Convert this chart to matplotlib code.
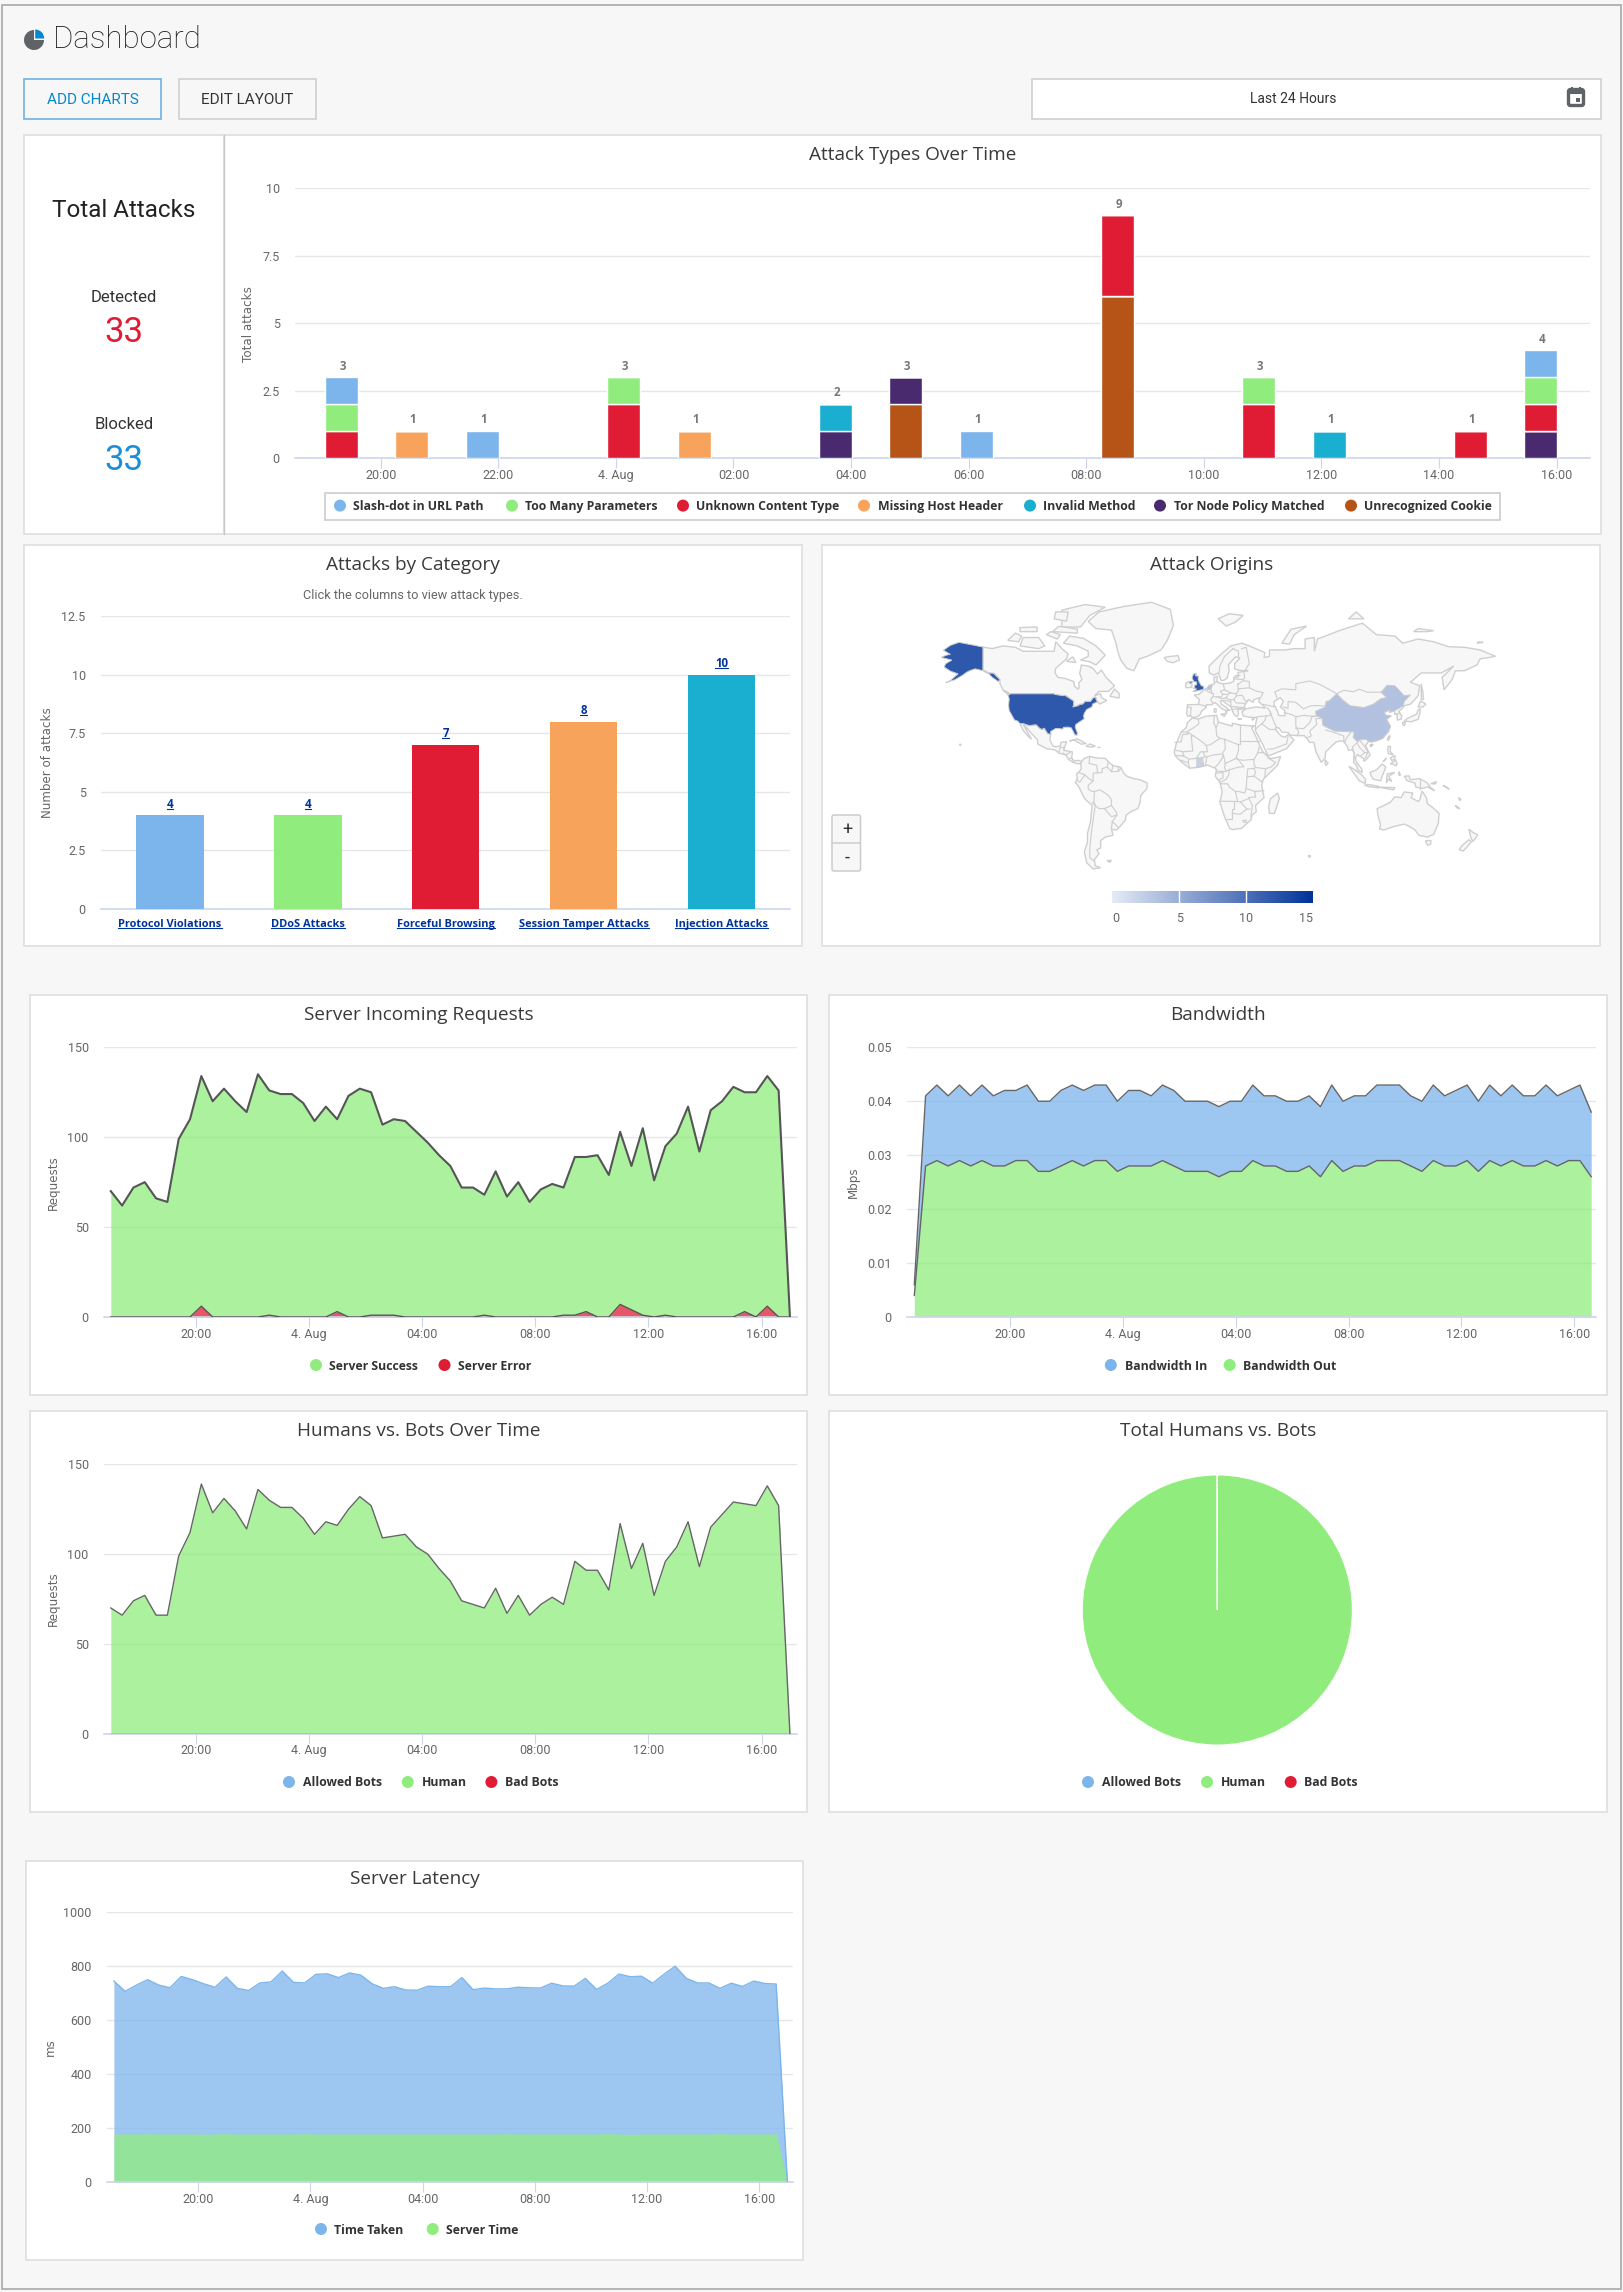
import numpy as np
import matplotlib
matplotlib.use('Agg')
from matplotlib import pyplot as plt
from matplotlib.colors import LinearSegmentedColormap
from matplotlib.patches import Rectangle, Ellipse, Wedge, Polygon, FancyBboxPatch

W, H = 1624, 2292

BLUE = '#7cb5ec'
GREEN = '#90ed7d'
RED = '#df1c33'
ORANGE = '#f7a35c'
TEAL = '#1aafd0'
PURPLE = '#4a2a6f'
BROWN = '#b55416'
GRID = '#e6e6e6'
AXIS = '#ccd6eb'
LINK = '#003399'

# ---- attack types, one value per time bin (hours after 20:00)
attack_bins = [-0.67, 0.53, 1.73, 4.13, 5.33, 7.73, 8.93, 10.13, 12.53, 14.93, 16.13, 18.53, 19.73]
slash_dot = [1, 0, 1, 0, 0, 0, 0, 1, 0, 0, 0, 0, 1]
too_many = [1, 0, 0, 1, 0, 0, 0, 0, 0, 1, 0, 0, 1]
unknown_type = [1, 0, 0, 2, 0, 0, 0, 0, 3, 2, 0, 1, 1]
missing_host = [0, 1, 0, 0, 1, 0, 0, 0, 0, 0, 0, 0, 0]
invalid_method = [0, 0, 0, 0, 0, 1, 0, 0, 0, 0, 1, 0, 0]
tor_node = [0, 0, 0, 0, 0, 1, 1, 0, 0, 0, 0, 0, 1]
bad_cookie = [0, 0, 0, 0, 0, 0, 2, 0, 6, 0, 0, 0, 0]
attack_names = ['Slash-dot in URL Path', 'Too Many Parameters', 'Unknown Content Type', 'Missing Host Header',
                'Invalid Method', 'Tor Node Policy Matched', 'Unrecognized Cookie']

# ---- attacks by category
categories = ['Protocol Violations', 'DDoS Attacks', 'Forceful Browsing', 'Session Tamper Attacks', 'Injection Attacks']
category_counts = [4, 4, 7, 8, 10]

# ---- time series, one sample every 24 minutes
server_total = [70, 62, 72, 75, 66, 64, 99, 110, 134, 120, 127, 120, 114, 135, 126, 124, 124, 119, 109, 117,
                110, 123, 127, 125, 107, 110, 109, 103, 97, 90, 84, 72, 72, 68, 81, 67, 75, 64, 71, 74,
                72, 89, 89, 90, 79, 103, 84, 105, 76, 95, 102, 117, 92, 115, 120, 128, 125, 125, 134, 126, 0]
server_error = [0, 0, 0, 0, 0, 0, 0, 0, 6, 0, 0, 0, 0, 0, 1, 0, 0, 0, 0, 0,
                3, 0, 0, 1, 1, 1, 0, 0, 0, 0, 0, 0, 0, 1, 0, 0, 0, 0, 0, 0,
                1, 1, 3, 0, 0, 7, 4, 1, 0, 1, 0, 0, 0, 0, 0, 0, 3, 0, 6, 0, 0]
bandwidth_in = [.006, .041, .043, .041, .043, .041, .043, .041, .042, .042, .043, .040, .040, .042, .043, .042,
                .043, .043, .040, .042, .042, .041, .043, .042, .040, .040, .040, .039, .040, .040, .043, .041,
                .041, .040, .040, .041, .039, .043, .040, .041, .041, .043, .043, .043, .041, .040, .043, .041,
                .042, .043, .040, .043, .041, .043, .041, .041, .043, .041, .042, .043, .038]
bandwidth_out = [.004, .028, .029, .028, .029, .028, .029, .028, .028, .029, .029, .027, .027, .028, .029, .028,
                 .029, .029, .027, .028, .028, .028, .029, .028, .027, .027, .027, .026, .027, .027, .029, .028,
                 .028, .027, .027, .028, .026, .029, .027, .028, .028, .029, .029, .029, .028, .027, .029, .028,
                 .028, .029, .027, .029, .028, .029, .028, .028, .029, .028, .029, .029, .026]
humans = [70, 66, 74, 77, 66, 66, 99, 112, 139, 123, 131, 124, 114, 136, 130, 126, 126, 120, 111, 118,
          116, 125, 132, 127, 109, 110, 111, 104, 100, 92, 85, 74, 72, 70, 81, 67, 77, 66, 72, 76,
          72, 96, 91, 91, 80, 117, 92, 106, 77, 96, 104, 118, 93, 115, 122, 129, 128, 127, 138, 127, 0]
time_taken = [745, 707, 730, 750, 730, 720, 762, 750, 735, 722, 760, 718, 710, 738, 742, 782, 740, 738, 770, 772,
              758, 775, 767, 735, 718, 724, 712, 711, 726, 724, 724, 758, 713, 719, 716, 716, 722, 720, 719, 737,
              727, 726, 755, 714, 737, 771, 761, 763, 737, 770, 800, 755, 738, 738, 718, 737, 725, 745, 736, 734, 0]
server_time = [178, 178, 178, 179, 178, 178, 178, 178, 177, 178, 179, 178, 178, 178, 178, 178, 178, 179, 178, 178,
               178, 178, 178, 178, 178, 178, 178, 178, 178, 178, 178, 178, 178, 178, 178, 179, 178, 178, 178, 178,
               178, 178, 178, 178, 179, 178, 177, 178, 178, 178, 178, 178, 178, 178, 179, 178, 178, 178, 178, 178, 0]

hour_ticks = [3, 7, 11, 15, 19, 23]
hour_labels = ['20:00', '4. Aug', '04:00', '08:00', '12:00', '16:00']

# ---- pie
pie_values = [0, 5600, 1]
pie_colors = [BLUE, GREEN, RED]

# ---- attack origins, attack count by highlighted country
usa_count, uk_count, china_count, ghana_count, dutch_count = 12, 12, 3.4, 2, 3

# ---- map outlines, lon/lat, read by eye so very rough
usa_main = [(-124.7, 48.4), (-123, 49), (-95.2, 49), (-94.6, 48.7), (-89.6, 48), (-88, 48.2), (-84.8, 46.5), (-83.5, 45.8),
            (-82.5, 45.3), (-82.4, 43), (-83, 42), (-79, 42.8), (-79, 43.3), (-76.5, 43.6), (-75, 45), (-71.5, 45), (-70, 46.7),
            (-68.3, 47.3), (-67.8, 45.7), (-67, 44.8), (-70, 43.7), (-70.7, 42), (-74, 40.6), (-75.5, 38.5), (-76, 37),
            (-75.6, 35.3), (-77.8, 34), (-81, 32), (-81.4, 30.5), (-80, 26.8), (-80.4, 25.2), (-81.8, 26), (-82.8, 28), (-84, 30),
            (-86, 30.4), (-89, 30.3), (-89.5, 29.2), (-91.5, 29.5), (-94, 29.6), (-97.2, 27.8), (-97.2, 26), (-99.2, 26.5),
            (-101.4, 29.8), (-103, 29), (-104.7, 30), (-106.5, 31.8), (-108.2, 31.7), (-111, 31.3), (-114.8, 32.5), (-117.1, 32.5),
            (-118.5, 34), (-120.6, 34.6), (-122.4, 37.5), (-124, 40), (-124.4, 43), (-124, 46.2)]
alaska = [(-141, 69.6), (-148, 70.4), (-156.5, 71.3), (-162, 70.2), (-166.5, 68.4), (-162, 66.8), (-164.5, 66.5), (-168, 65.6),
          (-161, 64.5), (-165, 63), (-166, 61.6), (-162, 59.8), (-158, 58.8), (-157, 58.6), (-162, 55.5), (-165, 54.5), (-159, 55.9),
          (-154, 58), (-151.5, 59.3), (-149.5, 60), (-146, 60.8), (-141, 60), (-137, 58.5), (-135, 57), (-131, 55), (-130, 55.9),
          (-134, 58.8), (-137.5, 59), (-141, 60.3)]
canada = [(-141, 69.6), (-135, 69), (-128, 70), (-120, 69.5), (-115, 68), (-108, 68), (-100, 68), (-95, 68), (-94, 71.5), (-90, 69),
          (-86, 67), (-87, 65), (-94, 61), (-94.5, 59), (-92.5, 57), (-88, 56.5), (-82.3, 55), (-82, 52.9), (-79.5, 51.2), (-79, 52),
          (-79, 54.5), (-77, 56), (-78.5, 58.7), (-77.5, 62.4), (-73, 62), (-70, 61), (-67, 58.5), (-64.5, 60.3), (-61.5, 57), (-56, 53),
          (-60, 50.2), (-66, 50.2), (-69, 48), (-65, 49), (-64.5, 47), (-61, 45.5), (-65.5, 43.6), (-67, 44.8), (-67.8, 45.7), (-68.3, 47.3),
          (-70, 46.7), (-71.5, 45), (-75, 45), (-76.5, 43.6), (-79, 43.3), (-79, 42.8), (-83, 42), (-82.4, 43), (-82.5, 45.3), (-83.5, 45.8),
          (-84.8, 46.5), (-88, 48.2), (-89.6, 48), (-94.6, 48.7), (-95.2, 49), (-123, 49), (-124.7, 48.4), (-128, 51), (-130, 54), (-130, 55.9),
          (-134, 58.8), (-137.5, 59), (-141, 60.3)]
mexico_central = [(-117.1, 32.5), (-114.8, 32.5), (-111, 31.3), (-108.2, 31.7), (-106.5, 31.8), (-104.7, 30), (-103, 29), (-101.4, 29.8),
                  (-99.2, 26.5), (-97.2, 26), (-97.8, 22.5), (-95.8, 18.8), (-94, 18.2), (-91, 18.8), (-90.5, 21), (-87, 21.5), (-88, 18.5),
                  (-88.8, 15.9), (-83.2, 15), (-83.7, 11), (-82, 9), (-79.5, 9.5), (-77.3, 8.7), (-78, 7.3), (-80.5, 7.3), (-83, 8.3),
                  (-85.7, 10), (-87.5, 13), (-91.5, 14), (-94.5, 16.2), (-100, 17), (-105.5, 20), (-105.7, 22.5), (-109.5, 26.5), (-112.8, 30),
                  (-114.7, 31.7), (-112, 27), (-109.5, 23), (-112, 25), (-115, 28.5)]
south_america = [(-77.3, 8.7), (-75.5, 10.7), (-72, 12), (-68, 11), (-62, 10.7), (-60, 8.5), (-57, 6), (-52, 4.8), (-50, 1), (-48, -1),
                 (-44, -2.5), (-39, -3.5), (-35, -5.5), (-35, -9), (-39, -13.5), (-39.5, -18), (-41, -22), (-45, -23.7), (-48.5, -26), (-49, -29),
                 (-53, -33.5), (-55, -35), (-58, -34.5), (-57, -38), (-62, -39), (-65, -41), (-65, -45), (-67.5, -46), (-66, -48), (-69, -51),
                 (-68.5, -54), (-65, -55), (-70, -55.5), (-74, -52.5), (-75.5, -47), (-73.5, -42), (-73.5, -37), (-71.5, -30), (-70.5, -20),
                 (-75, -16), (-76.3, -13.8), (-79, -8), (-81.3, -5), (-80, -2.5), (-80.5, 0.5), (-78.8, 2), (-77.5, 4), (-77.8, 7)]
africa = [(-5.9, 35.8), (-2, 35.2), (3, 36.8), (10, 37.3), (11, 33.5), (15, 32.3), (20, 31), (20, 32.8), (25, 31.6), (32, 31.2), (34.3, 31.3),
          (32.5, 29.9), (35.5, 24), (37.3, 20), (39.5, 15.2), (43, 12), (45, 10.5), (51.2, 11.9), (49, 6), (44, 1), (40, -3), (39, -7), (40.5, -15),
          (35, -20), (35.5, -24), (32.8, -26), (32, -29), (26, -34), (20, -34.8), (18.3, -34), (15, -27), (12, -18), (13.5, -11), (12, -5), (9, -1),
          (9.8, 3.5), (8.5, 4.5), (4, 6.3), (-2, 4.8), (-7.5, 4.3), (-13, 8.5), (-16.8, 12.5), (-17.5, 14.7), (-16.2, 20), (-13, 27.5), (-9.8, 30),
          (-9, 33)]
eurasia = [(-9, 37), (-9.4, 38.8), (-8.9, 43.2), (-1.8, 43.4), (-1.2, 46), (-4.6, 48.4), (-1.6, 48.7), (1.5, 50.9), (4, 52), (6, 53.4), (8.5, 54),
           (8.2, 57), (10.5, 57.5), (10, 55), (12, 54.2), (14.2, 53.9), (19, 54.4), (21, 55.3), (21, 57), (24, 57.2), (23.6, 59.2), (30, 59.9),
           (24, 60.2), (21.5, 60.8), (21.5, 63), (25, 65.3), (22, 65.8), (17.5, 62.5), (18, 60), (16.5, 56.5), (14.3, 55.5), (12.8, 55.5), (11, 59),
           (8, 58), (5.2, 59), (5, 62), (13, 67), (19, 70), (26, 71), (31, 70), (41, 67.5), (40.5, 65.5), (44, 66), (44, 68.5), (54, 68.5), (60, 69),
           (67, 69), (67, 72.5), (73, 73), (73, 68), (75, 72.5), (80, 73.5), (90, 75.5), (104, 77.7), (113, 74), (125, 73.5), (130, 71), (140, 72.5),
           (150, 71.5), (160, 69.7), (170, 69.5), (180, 68.5), (190, 66), (180, 65), (178, 62.5), (170, 60), (164, 59.9), (162, 56), (156.7, 51),
           (155.5, 57), (163, 62), (155, 59), (142, 59), (135, 54.7), (141, 53), (140, 48), (135, 43.5), (131, 42.7), (129.5, 41), (127.5, 39.5),
           (129.4, 37), (129, 35.2), (126.5, 34.5), (126.5, 37.5), (125, 38), (124.5, 40), (121.5, 39), (122, 40.6), (118, 39), (119, 37.3), (122.5, 37),
           (119.5, 35), (122, 31), (121, 28), (117, 23.5), (113, 22), (110, 21.3), (108, 21.6), (106, 19), (109, 13), (107, 10.5), (105, 8.7), (105, 10.5),
           (102.5, 12), (100.9, 13.3), (99.5, 11), (100, 8.5), (103.4, 4), (104, 1.4), (101, 3), (100.3, 6), (98.3, 8), (98.7, 14), (97.5, 16.5), (95, 15.8),
           (94.3, 18.5), (92, 21.5), (90, 22), (87, 21.3), (80.3, 15), (80, 11), (77.5, 8), (74, 15), (72.7, 21), (70, 21), (68, 23.7), (66.5, 25.2),
           (61.5, 25.2), (57, 25.7), (56.2, 27), (52, 27.5), (50, 30), (48, 30), (48, 29), (50, 26.5), (51.5, 25), (54, 24.2), (56.3, 26), (59.8, 22.5),
           (55, 17), (45, 13), (43, 12.7), (39, 21), (35, 28), (34.9, 31.5), (36, 36), (30.5, 36.3), (27, 37), (26.3, 39.5), (29, 41), (35, 42), (41.5, 41.5),
           (37, 45), (38, 47), (34, 46), (33.5, 44.5), (30.5, 46), (28, 43), (28, 41.2), (26, 40.8), (23.5, 40.5), (24, 38), (23, 36.5), (21, 38), (19.5, 41),
           (19.3, 42), (15, 44.5), (13.7, 45.5), (12.3, 45.3), (13, 43.5), (16, 41.8), (18.5, 40), (16.8, 40.3), (16, 38), (15.7, 40), (12.5, 41.5),
           (10.3, 43.5), (8.8, 44.4), (6.5, 43.2), (3.2, 43.2), (3.2, 41.9), (0, 39.5), (-.5, 38), (-2.2, 36.7), (-5.3, 36), (-6.5, 36.8)]
china = [(73.6, 39.5), (80, 42), (80.5, 45), (82.5, 45.3), (87.5, 49), (91, 46), (96, 42.7), (105, 41.7), (111, 43.5), (116, 46.5), (119.7, 47),
         (116, 49.8), (120, 53.3), (125, 53), (131, 48), (135, 48.4), (131, 45), (130.5, 42.7), (125, 40), (121.5, 39), (122, 40.6), (118, 39), (119, 37.3),
         (122.5, 37), (119.5, 35), (122, 31), (121, 28), (117, 23.5), (113, 22), (110, 21.3), (108, 21.6), (106.5, 23), (102, 22.5), (101, 21.3), (98, 24),
         (98.7, 27.5), (92, 27.8), (86, 28), (81, 30.3), (78.5, 31.5), (78, 35.5), (74.5, 37)]
hainan = [(108.7, 19.3), (110.5, 20), (111, 19.5), (109.5, 18.2)]
caspian = [(47, 45), (51, 47), (53, 45), (51, 42), (54, 40), (54, 37), (50, 37.3), (49, 40), (47, 43)]
uk = [(-5.5, 50), (1.3, 51.2), (1.7, 52.7), (0, 53), (-1.5, 55), (-2, 56), (-2, 57.6), (-4, 57.7), (-3, 58.6), (-5, 58.6), (-6, 56.7), (-4.8, 55),
      (-3, 54.8), (-3, 53.5), (-4.5, 53.2), (-4.2, 52), (-5.3, 51.8), (-3, 51.4)]
n_ireland = [(-8, 55), (-6, 55.2), (-5.6, 54.4), (-7.5, 54.2)]
ireland = [(-10, 52), (-6.2, 52.2), (-6, 53.7), (-7.5, 54.2), (-8, 55), (-10, 54.2)]
netherlands = [(3.5, 51.4), (6, 51), (7, 53.2), (5, 53.2)]
ghana = [(-3, 11), (0, 11), (0.5, 8), (1.2, 6.1), (-2, 4.8), (-3, 5.1), (-2.8, 8)]
islands = [
    [(-62, 66.5), (-68, 62.5), (-72, 63.8), (-78, 64.5), (-73, 66), (-73, 68), (-80, 70), (-89, 71), (-85, 73.5), (-76, 72.7), (-68, 70)],
    [(-117, 70), (-105, 69), (-101, 70), (-105, 73), (-115, 73)],
    [(-125, 72), (-118, 71.5), (-116, 73.5), (-120, 74.5)],
    [(-90, 76.5), (-78, 76.5), (-72, 80), (-62, 82.3), (-75, 83), (-90, 81.5)],
    [(-96, 75), (-80, 74.5), (-80, 75.8), (-92, 76.7)],
    [(-117, 75), (-106, 75), (-106, 76.5), (-117, 76.3)],
    [(-100, 74), (-93, 72.5), (-91, 74), (-97, 75)],
    [(-87, 64), (-81, 63.5), (-83, 65.8)],
    [(-59, 47.7), (-53, 46.8), (-53, 49), (-56, 51.5)],
    [(-95, 79), (-87, 78.3), (-86, 81), (-94, 81)],
    [(-128, 50.7), (-123.5, 48.4), (-125, 50)],
    [(-73, 78.2), (-66, 81), (-50, 82.5), (-32, 83.6), (-20, 81.7), (-18, 77), (-22, 72), (-26, 68.5), (-35, 66), (-40, 65), (-43.5, 60), (-48, 61),
     (-52, 64.5), (-54, 68), (-55, 71), (-58, 75.5), (-68, 76)],
    [(-24, 65.5), (-22, 64), (-18.5, 63.4), (-14, 64.5), (-15, 66.3), (-20, 66)],
    [(49.3, -12), (50.4, -15.7), (47.2, -25), (44, -25), (43.5, -21), (44.5, -16)],
    [(11, 79), (16, 76.8), (22, 78), (27, 80), (18, 80.5)],
    [(52, 71), (57, 70.7), (60, 74), (68, 76.8), (58, 75.8)],
    [(95, 79), (105, 79), (100, 81)],
    [(137, 75), (146, 75), (150, 75.3), (140, 76)],
    [(178, 71), (182, 71.3), (179, 71.5)],
    [(142, 54), (143, 50), (143.5, 46), (142, 46), (142, 50)],
    [(130.9, 34), (135.5, 33.6), (140, 35), (141, 38), (141.5, 41), (140, 40.5), (139, 38), (136.5, 37), (133, 35.5)],
    [(140, 42), (141.5, 45.3), (145, 43.5), (143, 42)],
    [(130, 33.3), (131.8, 33), (131, 31.2), (130, 32)],
    [(120.2, 23), (121, 25), (122, 25), (120.8, 22)],
    [(120.3, 16), (120.7, 18.5), (122.2, 18.4), (122, 15), (124, 13), (120.8, 13.8)],
    [(122, 7), (125.5, 9.7), (126.5, 7), (125.5, 5.8), (124, 7)],
    [(122, 11), (125, 12.5), (125, 10.3), (123, 9.3)],
    [(117.3, 8.5), (119.5, 11), (119, 10)],
    [(80, 9.7), (81.8, 7.5), (80.5, 6), (79.8, 7.5)],
    [(95.3, 5.5), (98, 4), (103.5, 0), (106, -3), (105.8, -5.8), (102, -4), (98.5, 1)],
    [(105.2, -6.8), (108.5, -6.5), (114.5, -7.7), (114.5, -8.7), (108, -7.8)],
    [(115, -8.3), (119, -8.3), (125, -8.5), (124, -10), (119, -9)],
    [(109, 1.5), (111.3, 2.5), (113, 3.2), (116.8, 7), (119, 5), (118, 2), (116.5, -1.5), (116, -4), (111, -3), (109.3, 0)],
    [(119.5, -5.5), (120, 0.5), (125, 1.5), (121, -1), (123, -4.5), (120.5, -3)],
    [(127.7, 2), (128.5, -.5), (127.5, 0)],
    [(131, -1), (134, -.8), (135, -3.3), (141, -2.6), (146, -5.5), (148, -8.5), (150.5, -10.5), (146, -8), (143, -9), (138.5, -8.2), (138, -5.5), (133, -4)],
    [(148, -6), (152, -4.5), (151, -6)],
    [(156, -7), (160, -9.5), (158, -8)],
    [(166, -15), (167.5, -16), (167, -17)],
    [(164, -20), (167, -22), (165.5, -21.8)],
    [(113.5, -22), (114, -26), (115.7, -32), (115, -34.3), (118, -35), (124, -33), (131, -31.5), (134, -32.7), (138, -35), (140.5, -38), (146, -39),
     (150, -37.5), (153, -31), (153.5, -25), (149, -21), (146, -19), (145.3, -15), (142.5, -10.7), (141, -16.5), (140, -17.5), (135.5, -15), (136.5, -12),
     (131, -11.3), (129, -15), (125, -14.5), (122, -18), (117, -20.5)],
    [(144.7, -41), (148.3, -41), (148, -43), (146, -43.5)],
    [(172.8, -34.5), (175.5, -36.5), (178.5, -37.7), (177, -39.7), (175.2, -41.5), (174, -39.3)],
    [(172.7, -40.5), (174.3, -41.7), (171, -45), (169, -46.6), (166.5, -46), (168, -44)],
    [(-85, 21.9), (-80, 23.2), (-74.2, 20.2), (-77.7, 19.9), (-82, 22.5)],
    [(-74.4, 18.5), (-72, 20), (-68.4, 18.6), (-71, 18)],
    [(-67.2, 18.3), (-65.6, 18.3), (-65.6, 18), (-67.2, 18)],
    [(-156, 20), (-155, 19.5), (-155.7, 19)],
    [(-61, -51.5), (-58, -51.4), (-59, -52.3)],
    [(8.2, 41), (9.7, 41), (9.5, 39.2), (8.5, 39)],
    [(12.5, 38), (15.6, 38.2), (15, 36.7)],
    [(23.5, 35.5), (26, 35.2), (24.5, 35)],
    [(32.5, 35), (34.5, 35.6), (33, 34.6)],
    [(69, -49), (70.5, -49), (70, -50)],
]
borders = [
    # south america
    [(-72, 12), (-72.5, 7.4), (-67.5, 6.2), (-67, 1.2), (-69.8, 1), (-69.8, -4.2), (-73, -2.3), (-75.2, -0.1), (-78.8, 1.4)],
    [(-67, 1.2), (-64, 1.5), (-64, 4), (-60.8, 5), (-60, 8.5)], [(-57, 6), (-58, 2)], [(-54, 5.8), (-54, 2.2)],
    [(-60.8, 5), (-58, 2), (-54, 2.2), (-51.7, 4)], [(-80.3, -3.4), (-78.5, -5), (-75.2, -0.1)],
    [(-69.8, -4.2), (-73, -7), (-73, -9.5), (-70.5, -11), (-69, -11)],
    [(-69, -11), (-65.3, -10), (-60, -13.5), (-58, -16.5), (-58, -20), (-62.5, -22), (-66, -22), (-68.5, -20), (-69.3, -17.5), (-69, -11)],
    [(-70.5, -18), (-68.5, -20), (-70, -30), (-71, -37), (-72, -45), (-72, -50), (-69, -52)],
    [(-58, -20), (-55, -24), (-54.5, -26), (-58, -27), (-62.5, -22)], [(-53.5, -33.5), (-57.5, -30), (-58, -34)], [(-54.5, -26), (-57.5, -30)],
    # central america
    [(-92, 14.5), (-91, 17.8), (-89, 17.9), (-88.5, 15.8)], [(-89.3, 14.2), (-87.5, 13)], [(-87.5, 13), (-84, 15)], [(-85.7, 11), (-83.7, 11)], [(-83, 8.3), (-82.5, 9.5)],
    # africa
    [(-2, 35.2), (-1.5, 32.5), (-5, 30), (-8.7, 28), (-8.7, 27.3)], [(-13, 27.5), (-8.7, 27.3), (-8.7, 26), (-12, 26), (-13, 21.3), (-17, 21)],
    [(-8.7, 27.3), (-5, 25), (-6.5, 25), (-5.5, 15.5), (-12, 15), (-16.5, 16)], [(-4.8, 25), (1, 21), (3.3, 19), (5.8, 19.5), (12, 23.5)],
    [(9.5, 30), (10, 25), (12, 23.5)], [(8.5, 37), (8, 33), (9.5, 30), (11, 33)], [(25, 31.6), (25, 20)], [(25, 20), (24, 19.5), (24, 15.7)],
    [(24, 19.5), (15, 23), (12, 23.5)], [(25, 22), (37, 22)], [(15, 23), (15.5, 17), (13.5, 13.6)], [(13.5, 13.6), (8, 13), (3.6, 11.7)],
    [(3.3, 19), (4, 15), (1, 15), (2.5, 11.8)], [(-12, 15), (-11.3, 12.2), (-8, 10.3), (-5.5, 10.4), (-3, 11), (-.5, 15), (1, 15)],
    [(1.5, 6.2), (0.9, 10.9)], [(2.7, 6.4), (3.6, 11.7)], [(0, 11), (2.5, 11.8)], [(-7.5, 4.3), (-8.5, 8), (-8, 10.3)], [(-13, 12.5), (-11.3, 12.2)],
    [(-13, 9.5), (-10.5, 8.5), (-8.5, 8)], [(-16.8, 12.5), (-11.3, 12.4)], [(8.5, 4.5), (11, 7), (13.5, 11), (14.2, 13)],
    [(14.2, 13), (15, 10), (15.5, 7.5)], [(15.5, 7.5), (19, 9), (23, 11), (27.5, 5.2), (24, 5), (19, 3.5), (16, 2.5), (15, 4.5), (15.5, 7.5)],
    [(24, 15.7), (22.5, 11)], [(23, 10), (27, 9.5), (33, 10), (34, 10)], [(37.3, 17.8), (36.5, 14.3), (34, 10), (34, 7), (35, 4.7)],
    [(36.5, 14.3), (40, 14.5), (43, 12)], [(43, 11), (48, 8), (45, 5), (41.5, 4), (41, -1.6)], [(35, 4.7), (41.5, 4)],
    [(34, 4.2), (30, 3.8), (29.5, -1.4), (34, -1), (35, 1.5), (34, 4.2)], [(34, -1), (39.2, -4.7)],
    [(12.3, -6), (17, -6), (18, -8), (22, -11), (24, -11), (28, -12), (29, -9), (29.5, -1.4)], [(12.3, -5), (16, -3), (17.8, 0), (18, 3.5)],
    [(11, -3.8), (14, -2), (14, 1.5), (9.8, 1)], [(9.8, 2.3), (16, 2.1)], [(29, -9), (34.5, -11), (40.4, -10.5)], [(34.5, -11), (35, -14.5)],
    [(35, -14.5), (30.5, -15), (33, -20), (32, -26.8)], [(12, -17.3), (23.4, -17.5), (22, -11)], [(23.4, -17.5), (25.3, -17.8), (30.5, -15.6)],
    [(21, -18), (21, -22), (20, -22), (20, -28.5), (16.5, -28.5)], [(20, -25), (25, -25.5), (29.4, -22.3), (31.3, -22.3)], [(25.3, -17.8), (29.4, -22.3)],
    [(27, -29.5), (29, -29), (29, -30.5), (27.5, -30.5), (27, -29.5)],
    # asia
    [(87.5, 49), (92, 50.8), (98, 50), (102, 51.3), (107, 49.8), (116, 49.8)],
    [(47.5, 50), (52, 51.5), (61, 51), (61, 54), (70, 55.3), (77, 53.5), (83, 51), (87.5, 49)], [(47.5, 50), (49, 46.5)], [(40, 43.4), (48, 42)],
    [(53, 42), (56, 41.3), (56, 45), (61, 44.5), (66, 41), (70, 42.5), (73.6, 42.8), (80, 42.5)],
    [(53.5, 39), (59, 37.5), (61, 36.5), (66.5, 37.3), (71, 36.8), (74.5, 37)], [(44.5, 39.5), (46, 35.5), (48.5, 30.3)], [(61, 36.5), (61, 31), (63, 27), (61.5, 25.2)],
    [(61, 29.8), (66, 29.5), (70, 33), (71.5, 36.5), (74.5, 37)], [(36, 36.5), (42, 37), (44.5, 37.2), (44.5, 39.5), (42.5, 41.5)],
    [(42, 37), (41, 34.4), (39, 32.3)], [(35, 29.3), (39, 32.3), (44, 29), (48, 29)], [(43, 16.6), (47, 17), (52, 19), (55, 20), (56, 24.5)],
    [(68, 23.7), (71, 25), (70, 28), (74.5, 32), (74, 35.5), (78, 35.5)], [(80.5, 28.6), (88, 26.5), (89, 26), (92, 25), (92, 21.5)],
    [(92, 27.8), (97, 28), (94, 24), (92.5, 21)], [(101, 21.3), (97.5, 18), (98.7, 14), (99, 10.5)], [(102, 22.5), (105, 19), (107.5, 15), (106, 11)],
    [(101, 20), (102, 18), (105.5, 14.4)], [(102.5, 12), (105.5, 14.4), (107.5, 14.5)], [(125, 38), (128.3, 38.5)], [(141, -2.6), (141, -9.2)],
    # europe
    [(-1.8, 43.4), (3.2, 42.5)], [(-8.9, 41.9), (-6.5, 41.8), (-7, 37.2)], [(2.5, 51), (6, 49.5), (8, 49), (7.5, 47.5), (6, 46.2), (7.5, 44)],
    [(4, 51.4), (6, 51), (6.8, 53.2)], [(14.2, 53.9), (15, 51), (12.3, 50.3), (13.8, 48.7), (13, 47.5), (10, 47.4), (7.5, 47.5)], [(6, 49.5), (6, 51)],
    [(8.6, 54.9), (9.9, 54.8)], [(23.5, 54), (24, 50.7), (22.5, 49), (19, 49.4), (15, 51)], [(13.8, 48.7), (17, 48.7), (19, 49.4)],
    [(10, 47.4), (12.5, 46.7), (13.7, 46.5), (16, 46.8), (17, 48)], [(16, 46.8), (18.8, 45.9), (21, 46), (22.8, 48), (22.5, 49)],
    [(22.8, 48), (26.5, 48.2), (28.3, 45.3), (29.5, 45)], [(21, 46), (22.5, 44.2), (27.5, 44), (28.5, 43.7)], [(22.5, 42), (26.3, 41.8), (28, 42)],
    [(18.8, 45.9), (19, 44), (19.3, 42.2), (22.5, 42)], [(13.7, 45.5), (15.5, 45.5), (19, 45)], [(19.5, 40.5), (21, 40.8), (26, 41.2)],
    [(24, 51.5), (31, 52), (35, 50.5), (40, 49.5), (38.3, 47)], [(23.5, 53.5), (27, 55.5), (31, 55), (31, 52)], [(21, 56.3), (26.5, 56), (28, 56.5), (27.5, 59.5)],
    [(22, 57.8), (25, 58)], [(24, 50.7), (24, 51.5)], [(30, 59.9), (28.5, 60.5), (31, 63), (29, 69.5), (26, 69)], [(24, 66), (24, 68), (20.5, 69)],
    [(20.5, 69), (15, 66), (12, 62), (11.5, 59.2)],
]

plt.rcParams['font.family'] = ['Roboto', 'DejaVu Sans']
TITLE_FONT = ['Open Sans', 'DejaVu Sans']

fig = plt.figure(figsize=(W / 100, H / 100), dpi=100, facecolor='#f7f7f7')

# pixel-space layer for the page itself, panels and legends
bg = fig.add_axes([0, 0, 1, 1], zorder=0)
bg.set_xlim(0, W)
bg.set_ylim(H, 0)
bg.axis('off')


def chart_axes(left, right, top, bottom, zorder=1):
    ax = fig.add_axes([left / W, 1 - bottom / H, (right - left) / W, (bottom - top) / H], zorder=zorder)
    ax.patch.set_alpha(0)
    return ax


def panel(left, right, top, bottom):
    bg.add_patch(Rectangle((left, top), right - left, bottom - top, fc='white', ec='#e0e0e0', lw=1.3))


def title(x, y, text):
    bg.text(x, y + 1.5, text, ha='center', va='center', fontsize=13.7, color='#3a3a3a', family=TITLE_FONT)


def legend(items, y, zorder=5):
    # items are (label, colour, circle x, text x)
    for label, color, cx, tx in items:
        bg.add_patch(Ellipse((cx, y), 12, 12, fc=color, ec='none', zorder=zorder))
        bg.text(tx, y + 1, label, ha='left', va='center', fontsize=8.8, fontweight='bold', color='#333333', family=TITLE_FONT)


def ylabel(x, y, text):
    bg.text(x + 2, y, text, rotation=90, ha='center', va='center', fontsize=8.6, color='#666666', family='DejaVu Sans')


def style_axes(ax, ticks_y, labels_y, ticks_x, labels_x, xlim, ylim, tick_len=7.2):
    for side in ['top', 'right', 'left']:
        ax.spines[side].set_visible(False)
    ax.spines['bottom'].set_color(AXIS)
    ax.spines['bottom'].set_linewidth(1.2)
    ax.set_xlim(*xlim)
    ax.set_ylim(*ylim)
    ax.set_yticks(ticks_y)
    ax.set_yticklabels(labels_y, fontsize=9, color='#666666')
    ax.set_xticks(ticks_x)
    ax.set_xticklabels(labels_x, fontsize=9, color='#666666')
    ax.tick_params(axis='y', length=0, pad=11)
    ax.tick_params(axis='x', length=tick_len, width=0.8, color=AXIS, pad=0.5)
    ax.yaxis.grid(True, color=GRID, lw=1)
    ax.set_axisbelow(True)


def underline_later(artist):
    underlined.append(artist)


underlined = []

# ---- page header
bg.add_patch(Rectangle((2, 5), 1619, 2284, fc='#f7f7f7', ec='#a8a8a8', lw=1.2))
bg.add_patch(Wedge((34, 40), 10, 0, 270, fc='#5f6368', ec='none'))
bg.add_patch(Wedge((35.2, 38.5), 9, 270, 360, fc='#0288d1', ec='none'))
bg.text(53, 40, 'Dashboard', fontsize=22.5, color='#1a1a1a', fontweight='light', ha='left', va='center')
bg.add_patch(Rectangle((24, 79), 137, 40, fc='#f7f7f7', ec='#6db3e3', lw=1.2))
bg.text(92.5, 99.5, 'ADD CHARTS', fontsize=11, color='#0288d1', ha='center', va='center')
bg.add_patch(Rectangle((179, 79), 137, 40, fc='#f7f7f7', ec='#d0d0d0', lw=1.2))
bg.text(247.5, 99.5, 'EDIT LAYOUT', fontsize=11, color='#333333', ha='center', va='center')
bg.add_patch(Rectangle((1032, 79), 569, 40, fc='white', ec='#d0d0d0', lw=1.2))
bg.text(1293, 99, 'Last 24 Hours', fontsize=10, color='#333333', ha='center', va='center')
bg.add_patch(FancyBboxPatch((1569, 90), 14, 15, boxstyle='round,pad=0.5,rounding_size=2', fc='white', ec='#5f6368', lw=2.4, zorder=3))
bg.add_patch(Rectangle((1568, 89), 16, 5, fc='#5f6368', ec='none', zorder=4))
bg.add_patch(Rectangle((1571, 87), 2, 3, fc='#5f6368', ec='none', zorder=4))
bg.add_patch(Rectangle((1579, 87), 2, 3, fc='#5f6368', ec='none', zorder=4))
bg.add_patch(Rectangle((1576, 98), 4, 4, fc='#5f6368', ec='none', zorder=4))

# ---- total attacks and attack types panel
panel(24, 224, 135, 534)
panel(224, 1601, 135, 534)
bg.plot([224, 224], [135, 534], color='#c8c8c8', lw=1, zorder=2)
bg.text(124, 210.5, 'Total Attacks', fontsize=17.5, color='#222222', ha='center', va='center')
bg.text(124, 297.5, 'Detected', fontsize=12, color='#333333', ha='center', va='center')
bg.text(124, 333, '33', fontsize=25, color=RED, ha='center', va='center')
bg.text(124, 424.5, 'Blocked', fontsize=12, color='#333333', ha='center', va='center')
bg.text(124, 460, '33', fontsize=25, color='#1a8fd8', ha='center', va='center')

title(913, 153, 'Attack Types Over Time')
ylabel(246.5, 324, 'Total attacks')
ax = chart_axes(295, 1589.6, 188.4, 458)
style_axes(ax, [0, 2.5, 5, 7.5, 10], ['0', '2.5', '5', '7.5', '10'], list(range(0, 21, 2)),
           ['20:00', '22:00', '4. Aug', '02:00', '04:00', '06:00', '08:00', '10:00', '12:00', '14:00', '16:00'],
           (-1.457, 20.56), (0, 10))
stack_order = [bad_cookie, tor_node, invalid_method, missing_host, unknown_type, too_many, slash_dot]
stack_colors = [BROWN, PURPLE, TEAL, ORANGE, RED, GREEN, BLUE]
bottoms = np.zeros(len(attack_bins))
for series, color in zip(stack_order, stack_colors):
    ax.bar(attack_bins, series, bottom=bottoms, width=0.56, color=color, edgecolor='white', linewidth=1, zorder=3)
    bottoms += np.array(series)
for hour, total in zip(attack_bins, bottoms):
    ax.annotate(str(int(total)), (hour + 0.02, total), xytext=(0, 8), textcoords='offset points', ha='center', va='center',
                fontsize=8.3, fontweight='bold', color='#777777', family=TITLE_FONT)

bg.add_patch(Rectangle((325, 492.5), 1175, 27.5, fc='white', ec='#cccccc', lw=1.2, zorder=2))
attack_colors = [BLUE, GREEN, RED, ORANGE, TEAL, PURPLE, BROWN]
legend(zip(attack_names, attack_colors, [340, 512, 683, 864, 1030, 1160, 1351], [353, 525, 696, 878, 1043.5, 1173.6, 1364]), 505.6)

# ---- attacks by category
panel(24, 802, 545, 946)
title(413, 564, 'Attacks by Category')
bg.text(413, 595, 'Click the columns to view attack types.', ha='center', va='center', fontsize=9.2, color='#666666')
ylabel(45.5, 763, 'Number of attacks')
ax = chart_axes(101, 790.4, 616.3, 909)
style_axes(ax, [0, 2.5, 5, 7.5, 10, 12.5], ['0', '2.5', '5', '7.5', '10', '12.5'], range(5), categories, (-0.5, 4.5), (0, 12.5), tick_len=0)
ax.bar(range(5), category_counts, width=0.49, color=[BLUE, GREEN, RED, ORANGE, TEAL], zorder=3)
for label in ax.get_xticklabels():
    label.set_color(LINK)
    label.set_fontweight('bold')
    label.set_fontsize(7.9)
    label.set_family(TITLE_FONT)
    underline_later(label)
ax.tick_params(axis='x', pad=7.5)
for i, count in enumerate(category_counts):
    t = ax.annotate(str(count), (i, count), xytext=(0, 8), textcoords='offset points', ha='center', va='center', fontsize=8.3,
                    fontweight='bold', color=LINK, family=TITLE_FONT)
    underline_later(t)

# ---- attack origins
panel(822.5, 1600.5, 545, 946)
title(1212, 564, 'Attack Origins')


def miller(points):
    pts = np.array(points, dtype=float)
    lat = np.radians(pts[:, 1])
    y = np.degrees(1.25 * np.log(np.tan(np.pi / 4 + 0.4 * lat)))
    return np.column_stack([pts[:, 0], y])


origin_cmap = LinearSegmentedColormap.from_list('origin', ['#e6ebf5', '#003399'])
LON_PX, LAT_PX = 1.549, 1.517
map_left, map_right, map_top, map_bottom = 890, 1510, 590, 880
ax = chart_axes(map_left, map_right, map_top, map_bottom)
ax.axis('off')
ax.set_xlim((map_left - 1201.3) / LON_PX, (map_right - 1201.3) / LON_PX)
ax.set_ylim((774.7 - map_bottom) / LAT_PX, (774.7 - map_top) / LAT_PX)
LAND = '#f7f7f7'
EDGE = '#cfcfcf'
for shape in [canada, mexico_central, south_america, africa, eurasia, ireland] + islands:
    ax.add_patch(Polygon(miller(shape), closed=True, fc=LAND, ec=EDGE, lw=1.0, clip_on=False))
ax.add_patch(Polygon(miller(caspian), closed=True, fc='white', ec=EDGE, lw=1.0))
for line in borders:
    xy = miller(line)
    ax.plot(xy[:, 0], xy[:, 1], color=EDGE, lw=0.85, clip_on=False)
for shape, count in [(usa_main, usa_count), (alaska, usa_count), (uk, uk_count), (n_ireland, uk_count), (china, china_count), (hainan, china_count),
                     (ghana, ghana_count), (netherlands, dutch_count)]:
    ax.add_patch(Polygon(miller(shape), closed=True, fc=origin_cmap(count / 15), ec='#cccccc', lw=0.7, zorder=3))

# zoom buttons
bg.add_patch(FancyBboxPatch((832, 815), 28.5, 56, boxstyle='round,pad=0,rounding_size=2', fc='#f7f7f7', ec='#cccccc', lw=1.1, zorder=3))
bg.plot([832, 860.5], [843, 843], color='#cccccc', lw=1.1, zorder=4)
bg.text(847, 830, '+', ha='center', va='center', fontsize=13, color='#333333', zorder=4)
bg.text(847, 858, '-', ha='center', va='center', fontsize=13, color='#333333', zorder=4)

# colour axis
ax = chart_axes(1112, 1313, 891, 903)
ax.imshow(np.linspace(0, 1, 256).reshape(1, -1), cmap=origin_cmap, aspect='auto', extent=(0, 15, 0, 1))
ax.axis('off')
for stop in [5, 10]:
    ax.axvline(stop, color='white', lw=1)
for value, x in zip(['0', '5', '10', '15'], [1116, 1179.5, 1246, 1306]):
    bg.text(x, 919, value, ha='center', va='center', fontsize=9, color='#666666')

# ---- time series panels
samples = np.arange(len(server_total)) * 0.4

panel(30, 807, 995, 1395)
title(419, 1013, 'Server Incoming Requests')
ylabel(51.6, 1183, 'Requests')
ax = chart_axes(104, 797, 1047.3, 1317)
style_axes(ax, [0, 50, 100, 150], ['0', '50', '100', '150'], hour_ticks, hour_labels, (-0.24, 24.25), (0, 150))
ax.fill_between(samples, server_error, server_total, color=GREEN, alpha=0.75, lw=0, zorder=2)
ax.fill_between(samples, 0, server_error, color=RED, alpha=0.75, lw=0, zorder=2)
ax.plot(samples, server_total, color='#555555', lw=1.5, zorder=3)
ax.plot(samples, server_error, color='#555555', lw=1, zorder=3)
legend([('Server Success', GREEN, 316, 329), ('Server Error', RED, 444.5, 458)], 1365)

panel(829, 1607, 995, 1395)
title(1218, 1013, 'Bandwidth')
ylabel(851, 1182, 'Mbps')
ax = chart_axes(906.7, 1596, 1047.3, 1317)
style_axes(ax, [0, .01, .02, .03, .04, .05], ['0', '0.01', '0.02', '0.03', '0.04', '0.05'], hour_ticks, hour_labels, (-0.67, 23.77), (0, .05))
bw_hours = samples - 0.4
ax.fill_between(bw_hours, bandwidth_out, bandwidth_in, color=BLUE, alpha=0.75, lw=0, zorder=2)
ax.fill_between(bw_hours, 0, bandwidth_out, color=GREEN, alpha=0.75, lw=0, zorder=2)
ax.plot(bw_hours, bandwidth_in, color='#666666', lw=1, zorder=3)
ax.plot(bw_hours, bandwidth_out, color='#666666', lw=1, zorder=3)
legend([('Bandwidth In', BLUE, 1110.8, 1124.6), ('Bandwidth Out', GREEN, 1229.7, 1243.5)], 1365)

panel(30, 807, 1411, 1812)
title(419, 1430, 'Humans vs. Bots Over Time')
ylabel(51.6, 1599, 'Requests')
ax = chart_axes(104, 797, 1464.3, 1733.7)
style_axes(ax, [0, 50, 100, 150], ['0', '50', '100', '150'], hour_ticks, hour_labels, (-0.24, 24.25), (0, 150))
ax.fill_between(samples, 0, humans, color=GREEN, alpha=0.75, lw=0, zorder=2)
ax.plot(samples, humans, color='#666666', lw=1, zorder=3)
ax.plot(samples, np.zeros(len(samples)), color='#666666', lw=1, zorder=3)
bots_legend = [('Allowed Bots', BLUE), ('Human', GREEN), ('Bad Bots', RED)]
legend([(n, c, x, x + 13.7) for (n, c), x in zip(bots_legend, [289, 407.8, 491.4])], 1782)

panel(829, 1607, 1411, 1812)
title(1218, 1430, 'Total Humans vs. Bots')
ax = chart_axes(1217.3 - 136, 1217.3 + 136, 1610 - 136, 1610 + 136)
ax.pie(pie_values, colors=pie_colors, startangle=90, counterclock=False, radius=135,
       wedgeprops={'edgecolor': 'white', 'linewidth': 0.7})
ax.set_xlim(-136, 136)
ax.set_ylim(-136, 136)
legend([(n, c, x, x + 13.7) for (n, c), x in zip(bots_legend, [1088, 1207, 1290.7])], 1782)

panel(26, 803, 1861, 2260)
title(415, 1878, 'Server Latency')
ylabel(48.6, 2047, 'ms')
ax = chart_axes(107, 793, 1912.3, 2182)
style_axes(ax, [0, 200, 400, 600, 800, 1000], ['0', '200', '400', '600', '800', '1000'], hour_ticks, hour_labels, (-0.246, 24.2), (0, 1000))
ax.fill_between(samples, 0, time_taken, color=BLUE, alpha=0.75, lw=0, zorder=2)
ax.fill_between(samples, 0, server_time, color=GREEN, alpha=0.75, lw=0, zorder=2)
ax.plot(samples, time_taken, color=BLUE, lw=1, zorder=3)
legend([('Time Taken', BLUE, 321, 334), ('Server Time', GREEN, 432.7, 446)], 2229)

# underline link text once sizes are known
fig.canvas.draw()
renderer = fig.canvas.get_renderer()
for artist in underlined:
    box = artist.get_window_extent(renderer)
    bg.plot([box.x0, box.x1], [H - box.y0 - 2, H - box.y0 - 2], color=LINK, lw=0.8, zorder=6)
bg.set_zorder(0)
bg.set_xlim(0, W)
bg.set_ylim(H, 0)

fig.savefig('out.png', dpi=100, facecolor=fig.get_facecolor())
